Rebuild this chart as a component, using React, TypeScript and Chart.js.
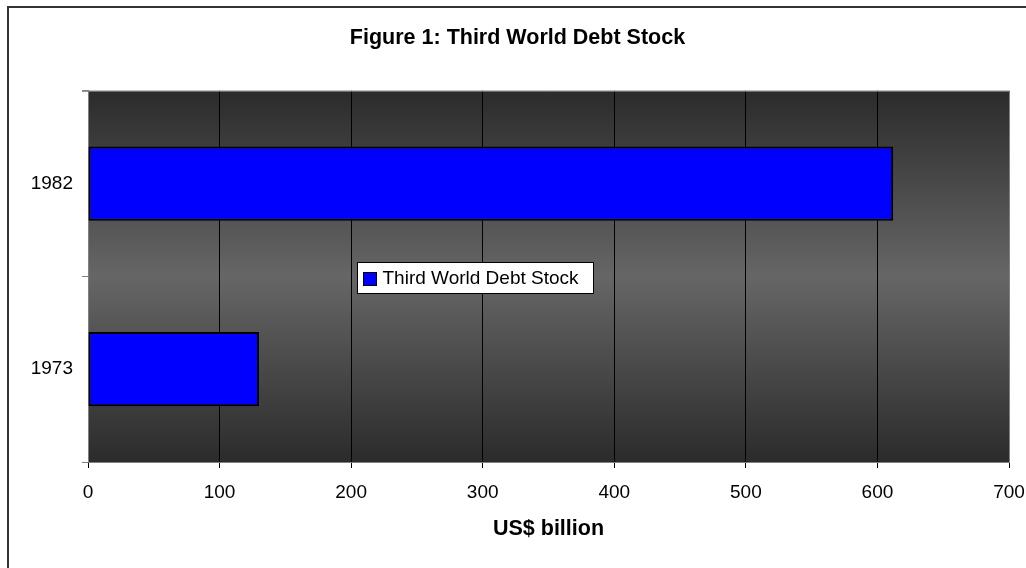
import React, { useEffect, useRef } from "react";
import { Chart, registerables } from "chart.js";

Chart.register(...registerables);

const categories = ["1973", "1982"];
const debtStock = [130, 612];
const seriesLabel = "Third World Debt Stock";
const chartTitle = "Figure 1: Third World Debt Stock";
const xAxisTitle = "US$ billion";
const xMin = 0;
const xMax = 700;
const xStep = 100;

const FONT = "'Liberation Sans', Arial, sans-serif";

const backgroundPlugin = {
  id: "bgPlugin",
  beforeDraw(chart: any) {
    const { ctx, chartArea, width, height } = chart;
    ctx.save();
    ctx.fillStyle = "#ffffff";
    ctx.fillRect(0, 0, width, height);
    // outer chart border (left and top visible)
    ctx.fillStyle = "#333333";
    ctx.fillRect(7, 6, 2, height - 6);
    ctx.fillRect(7, 6, width - 7, 2);
    // plot area gradient
    const g = ctx.createLinearGradient(0, chartArea.top, 0, chartArea.bottom);
    g.addColorStop(0, "#2b2b2b");
    g.addColorStop(0.5, "#666666");
    g.addColorStop(1, "#2b2b2b");
    ctx.fillStyle = g;
    ctx.fillRect(chartArea.left, chartArea.top, chartArea.right - chartArea.left, chartArea.bottom - chartArea.top);
    ctx.restore();
  },
  beforeDatasetsDraw(chart: any) {
    const { ctx, chartArea } = chart;
    ctx.save();
    ctx.strokeStyle = "#808080";
    ctx.lineWidth = 1;
    ctx.beginPath();
    ctx.moveTo(chartArea.left - 6, chartArea.top + 0.5);
    ctx.lineTo(chartArea.right + 0.5, chartArea.top + 0.5);
    ctx.lineTo(chartArea.right + 0.5, chartArea.bottom);
    ctx.stroke();
    ctx.restore();
  },
  afterDatasetsDraw(chart: any) {
    const { ctx, chartArea } = chart;
    const w = chartArea.right - chartArea.left;
    const h = chartArea.bottom - chartArea.top;
    const bx = Math.round(chartArea.left + w * 0.292) + 0.5;
    const by = Math.round(chartArea.top + h * 0.461) + 0.5;
    const bw = 236;
    const bh = 31;
    ctx.save();
    ctx.fillStyle = "#ffffff";
    ctx.fillRect(bx, by, bw, bh);
    ctx.strokeStyle = "#000000";
    ctx.lineWidth = 1;
    ctx.strokeRect(bx, by, bw, bh);
    // swatch
    ctx.fillStyle = "#0000ff";
    ctx.fillRect(bx + 6, by + 10, 13, 13);
    ctx.strokeRect(bx + 6, by + 10, 13, 13);
    ctx.fillStyle = "#000000";
    ctx.font = `19px ${FONT}`;
    ctx.textBaseline = "middle";
    ctx.textAlign = "left";
    const label = chart.data.datasets[0].label;
    ctx.fillText(label, bx + 25, by + bh / 2 + 1);
    ctx.restore();
  },
};

export default function App() {
  const ref = useRef<HTMLCanvasElement | null>(null);

  useEffect(() => {
    if (!ref.current) return;
    const chart = new Chart(ref.current, {
      type: "bar",
      data: {
        labels: categories,
        datasets: [
          {
            label: seriesLabel,
            data: debtStock,
            backgroundColor: "#0000ff",
            borderColor: "#000000",
            borderWidth: 2,
            borderSkipped: false,
            categoryPercentage: 1,
            barPercentage: 0.4,
          },
        ],
      },
      options: {
        indexAxis: "y",
        responsive: false,
        animation: false,
        devicePixelRatio: 1,
        layout: { padding: { left: 26, right: 17, top: 0, bottom: 0 } },
        plugins: {
          legend: { display: false },
          tooltip: { enabled: false },
          title: {
            display: true,
            text: chartTitle,
            color: "#000000",
            font: { family: FONT, size: 21.5, weight: "bold", lineHeight: 1.2 },
            padding: { top: 25, bottom: 40 },
          },
        },
        scales: {
          x: {
            type: "linear",
            min: xMin,
            max: xMax,
            ticks: {
              stepSize: xStep,
              color: "#000000",
              font: { family: FONT, size: 19 },
              padding: 13,
              maxRotation: 0,
            },
            grid: {
              color: "#000000",
              tickColor: "#000000",
              tickLength: 6,
              lineWidth: 1,
            },
            border: { color: "#808080", width: 1 },
            title: {
              display: true,
              text: xAxisTitle,
              color: "#000000",
              font: { family: FONT, size: 21.5, weight: "bold", lineHeight: 1.2 },
              padding: { top: 0, bottom: 26 },
            },
            afterFit: (s: any) => {
              s.height = 106;
              s.paddingLeft = 0;
              s.paddingRight = 0;
            },
          },
          y: {
            type: "category",
            reverse: true,
            ticks: {
              color: "#000000",
              font: { family: FONT, size: 19 },
              padding: 9,
            },
            grid: {
              offset: true,
              drawOnChartArea: false,
              tickColor: "#808080",
              tickLength: 6,
            },
            border: { color: "#808080", width: 1 },
            afterFit: (s: any) => {
              s.width = 62;
              s.paddingTop = 0;
              s.paddingBottom = 0;
            },
          },
        },
      },
      plugins: [backgroundPlugin],
    });
    return () => chart.destroy();
  }, []);

  return (
    <div style={{ position: "fixed", left: 0, top: 0, width: 1026, height: 568, overflow: "hidden", background: "#fff" }}>
      <canvas ref={ref} width={1026} height={568} style={{ display: "block", width: 1026, height: 568 }} />
    </div>
  );
}
